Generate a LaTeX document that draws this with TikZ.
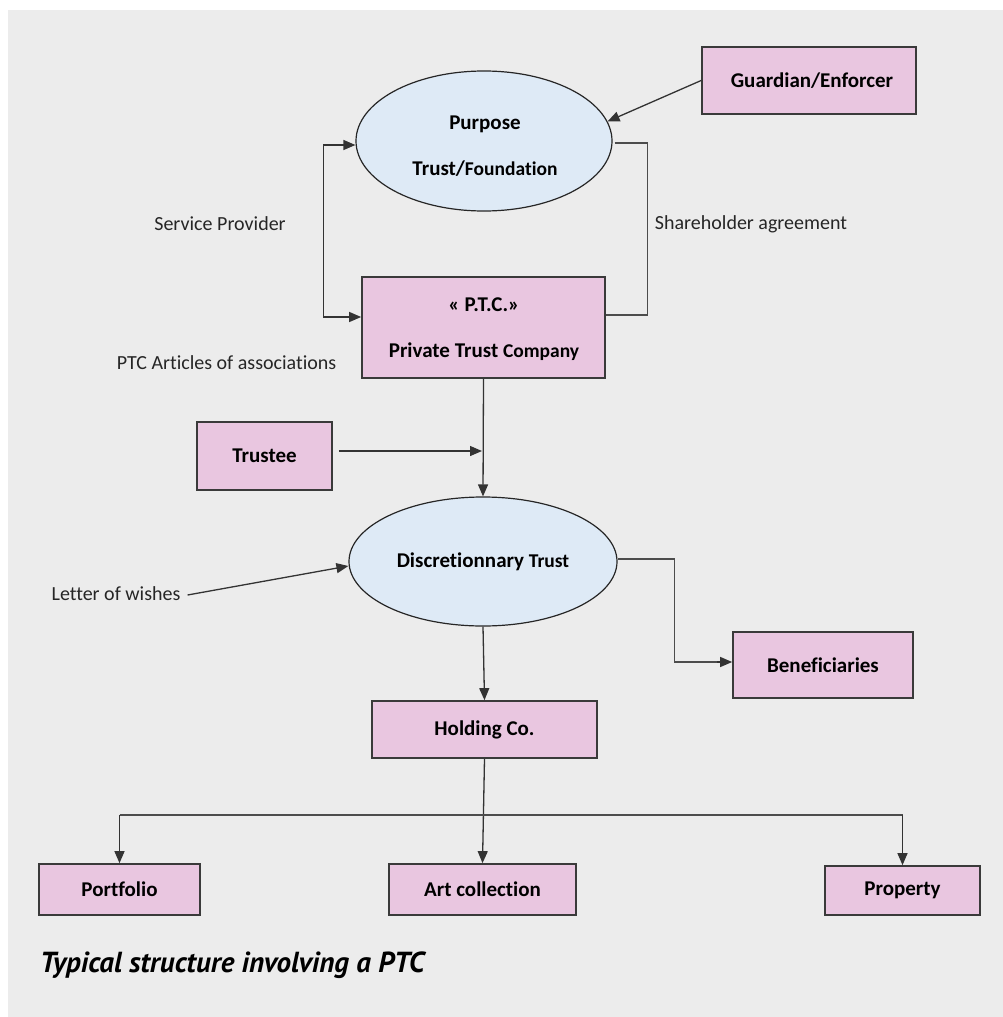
\documentclass[tikz,border=0pt]{standalone}
\usepackage{fontspec}
\setmainfont{Carlito}[Ligatures=NoCommon]
\newfontfamily\capfont{PT Sans}
\usetikzlibrary{shapes.geometric,arrows.meta}
\definecolor{bg}{HTML}{ECECEC}
\definecolor{pinkbox}{HTML}{E9C6E0}
\definecolor{blueell}{HTML}{DEEAF6}
\definecolor{edge}{HTML}{3A3A3A}
\newcommand\smtxt[1]{{\fontsize{19.5}{23}\selectfont #1}}
\begin{document}
\begin{tikzpicture}[x=1pt,y=-1pt,
  box/.style={draw=edge, line width=1.7pt, fill=pinkbox, inner sep=0pt,
    font=\fontsize{21}{25}\selectfont\bfseries},
  ell/.style={ellipse, draw=black!85, line width=1.2pt, fill=blueell, inner sep=0pt,
    font=\fontsize{21}{25}\selectfont\bfseries},
  btxt/.style={inner sep=0pt, align=center, font=\fontsize{21}{25}\selectfont\bfseries},
  lbl/.style={font=\fontsize{20}{24}\selectfont, inner sep=0pt, text=black!85},
  tip/.style={-{Triangle[length=12pt,width=10pt]}},
  arr/.style={draw=black!80, line width=1.3pt, tip},
  both/.style={draw=black!80, line width=1.3pt, {Triangle[length=12pt,width=10pt]}-{Triangle[length=12pt,width=10pt]}},
  ln/.style={draw=black!70, line width=1.3pt}]
\useasboundingbox (0,0) rectangle (1003,1017);
\fill[bg] (8,10) rectangle (1003,1017);

% nodes
\node[ell, minimum width=256pt, minimum height=140pt] (purpose) at (484,141) {};
\node[btxt] (purposeT) at (485,146) {Purpose\\[21pt]Trust/\smtxt{Foundation}};
\node[box, minimum width=214pt, minimum height=67pt] (guard) at (809,80.5) {\hspace*{6pt}Guardian/Enforcer};
\node[box, minimum width=243pt, minimum height=101pt] (ptc) at (483.5,327.5) {};
\node[btxt] (ptcT) at (484,329.5) {« P.T.C.»\\[21pt]Private Trust \smtxt{Company}};
\node[box, minimum width=135pt, minimum height=68pt] (trustee) at (264.5,456) {Trustee};
\node[ell, minimum width=268pt, minimum height=129pt] (disc) at (483,561.5)
  {Discretionnary \smtxt{Trust}};
\node[box, minimum width=180pt, minimum height=66pt] (benef) at (823,665) {Beneficiaries};
\node[box, minimum width=225pt, minimum height=57pt] (holding) at (484.5,729.5) {Holding Co.};
\node[box, minimum width=161pt, minimum height=51pt] (port) at (119.5,889.5) {Portfolio};
\node[box, minimum width=187pt, minimum height=51pt] (art) at (482.5,889.5) {Art collection};
\node[box, minimum width=155pt, minimum height=49pt] (prop) at (902.5,890.5) {Property};

% labels
\node[lbl] (sp) at (220,224) {Service Provider};
\node[lbl] (sa) at (751,224) {Shareholder agreement};
\node[lbl] (pa) at (226.5,363) {PTC Articles of associations};
\node[lbl] (low) at (116,594) {Letter of wishes};
\node[font=\capfont\bfseries\itshape\fontsize{29}{34}\selectfont, anchor=west, inner sep=0pt]
  (cap) at (40,965) {Typical structure involving a PTC};

% coordinates
\coordinate (tj) at (482,451);
\coordinate (bus) at (0,815);

% connectors
\draw[arr] (guard.west) -- (purpose.9);
\draw[both] ([yshift=-4pt]purpose.west) -- ++(-32,0) |- ([yshift=10.5pt]ptc.west);
\draw[ln] ([xshift=2pt,yshift=-2pt]purpose.east) -- ++(33,0) |- ([yshift=12.5pt]ptc.east);
\draw[arr] (ptc.south) -- (disc.north);
\draw[arr] ([xshift=6pt,yshift=5pt]trustee.east) -- (tj);
\draw[arr] ([xshift=7pt,yshift=-1pt]low.east) -- ([yshift=-4.5pt]disc.west);
\draw[ln] ([yshift=2.5pt]disc.east) -- ++(57,0) |- ([xshift=-14pt,yshift=3pt]benef.west);
\draw[arr] ([xshift=-15pt,yshift=3pt]benef.west) -- ([yshift=3pt]benef.west);
\draw[arr] (disc.south) -- (holding.north);
\draw[arr] (holding.south) -- (art.north);
\draw[ln] (port.north |- bus) -- (prop.north |- bus);
\draw[arr] (port.north |- bus) -- (port.north);
\draw[arr] (prop.north |- bus) -- (prop.north);
\end{tikzpicture}
\end{document}
